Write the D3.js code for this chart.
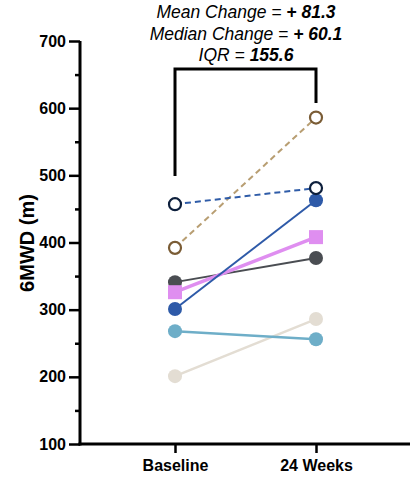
<!DOCTYPE html>
<html><head><meta charset="utf-8">
<script src="https://cdn.jsdelivr.net/npm/d3@7"></script>
<style>body{margin:0;background:#fff}svg{display:block}text{font-family:"Liberation Sans",Arial,sans-serif}</style>
</head><body>
<svg id="c" width="410" height="478"></svg>
<script>
const categories = ["Baseline", "24 Weeks"];
const yTicks = [100, 200, 300, 400, 500, 600, 700];
const seriesNames = ["brownOpen", "navyOpen", "blue", "pink", "darkGray", "beige", "lightBlue"];
const baselineValues = [392, 457, 301, 326, 341, 201, 268];
const week24Values = [586, 481, 463, 408, 377, 286, 256];
const seriesColors = ["#b89e72", "#2f5ca8", "#2e5aa8", "#df8ef0", "#4a4d52", "#e3ddd3", "#6eaec8"];
const markerColors = ["#7a5c35", "#0d1f3c", "#2e5aa8", "#df8ef0", "#4a4d52", "#e3ddd3", "#6eaec8"];
const markerTypes = ["open", "open", "circle", "square", "circle", "circle", "circle"];
const dashed = [true, true, false, false, false, false, false];
const lineWidths = [2, 2, 2, 3.5, 2, 2.5, 2.5];
const stats = [["Mean Change = ", "+ 81.3"], ["Median Change = ", "+ 60.1"], ["IQR = ", "155.6"]];

const svg = d3.select("#c");
const y = d3.scaleLinear().domain([100, 700]).range([444, 41]);
const x = d3.scalePoint().domain(categories).range([175, 316]);

// axes
const yAxis = svg.append("g").attr("transform", "translate(80,0)")
  .call(d3.axisLeft(y).tickValues(d3.range(100, 701, 50)).tickSize(5).tickFormat(d => yTicks.includes(d) ? d : ""));
yAxis.select(".domain").attr("stroke", "#000").attr("stroke-width", 3).attr("d", "M0,41V445.5");
yAxis.selectAll(".tick line").attr("stroke", "#000").attr("stroke-width", 2.5)
  .attr("x2", d => yTicks.includes(d) ? -11 : -5);
yAxis.selectAll(".tick text").attr("font-size", 16).attr("font-weight", "bold").attr("fill", "#000").attr("x", -14);

const xAxis = svg.append("g").attr("transform", "translate(0,444)")
  .call(d3.axisBottom(x).tickSize(9).tickPadding(7));
xAxis.select(".domain").attr("stroke", "#000").attr("stroke-width", 3).attr("d", "M78.5,0H410");
xAxis.selectAll(".tick line").attr("stroke", "#000").attr("stroke-width", 2.5);
xAxis.selectAll(".tick text").attr("font-size", 16).attr("font-weight", "bold").attr("fill", "#000");

svg.append("text").attr("transform", "translate(34,243) rotate(-90)").attr("text-anchor", "middle")
  .attr("font-size", 20).attr("font-weight", "bold").text("6MWD (m)");

// bracket
svg.append("path").attr("fill", "none").attr("stroke", "#000").attr("stroke-width", 3)
  .attr("d", `M${x("Baseline")},176V69H${x("24 Weeks")}V103`);

// stats text
stats.forEach((s, i) => {
  const t = svg.append("text").attr("x", 246).attr("y", 18 + i * 21.5).attr("text-anchor", "middle")
    .attr("font-size", 17.5).attr("font-style", "italic");
  t.append("tspan").text(s[0]);
  t.append("tspan").attr("font-weight", "bold").text(s[1]);
});

// lines
const order = [5, 6, 4, 3, 2, 0, 1];
order.forEach(i => {
  const pts = [[x(categories[0]), y(baselineValues[i])], [x(categories[1]), y(week24Values[i])]];
  svg.append("path").attr("d", d3.line()(pts)).attr("fill", "none")
    .attr("stroke", seriesColors[i]).attr("stroke-width", lineWidths[i])
    .attr("stroke-dasharray", dashed[i] ? "6,4" : null);
});
order.forEach(i => {
  [baselineValues[i], week24Values[i]].forEach((v, j) => {
    const cx = x(categories[j]), cy = y(v);
    if (markerTypes[i] === "square") {
      svg.append("rect").attr("x", cx - 7).attr("y", cy - 7).attr("width", 14).attr("height", 14).attr("fill", markerColors[i]);
    } else if (markerTypes[i] === "open") {
      svg.append("circle").attr("cx", cx).attr("cy", cy).attr("r", 6).attr("fill", "#fff")
        .attr("stroke", markerColors[i]).attr("stroke-width", 2.2);
    } else {
      svg.append("circle").attr("cx", cx).attr("cy", cy).attr("r", 7).attr("fill", markerColors[i]);
    }
  });
});
</script>
</body></html>
